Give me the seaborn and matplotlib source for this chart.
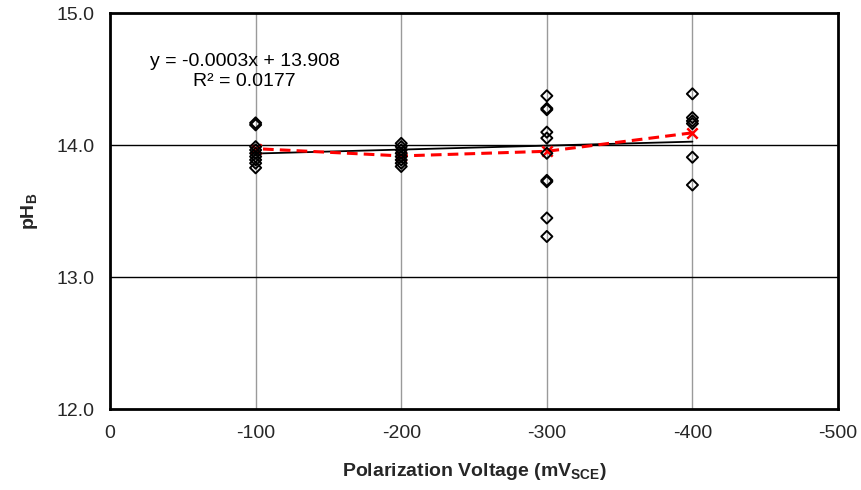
import numpy as np
import pandas as pd
import matplotlib
matplotlib.use("Agg")
import matplotlib.pyplot as plt
import seaborn as sns

# ---- data ----
v100 = [14.17, 14.155, 13.99, 13.965, 13.94, 13.915, 13.89, 13.865, 13.83]
v200 = [14.015, 13.99, 13.965, 13.94, 13.915, 13.89, 13.865, 13.84]
v300 = [14.375, 14.28, 14.27, 14.10, 14.055, 13.94, 13.735, 13.725, 13.45, 13.31]
v400 = [14.39, 14.21, 14.185, 14.165, 13.91, 13.70]
voltages = [-100, -200, -300, -400]
mean_ph = [13.975, 13.92, 13.955, 14.095]
fit_slope = -0.0003
fit_intercept = 13.908
fit_text = "y = -0.0003x + 13.908\nR² = 0.0177"
xticks = [0, -100, -200, -300, -400, -500]
yticks = [12.0, 13.0, 14.0, 15.0]

rows = []
for v, vals in zip(voltages, [v100, v200, v300, v400]):
    for p in vals:
        rows.append({"V": v, "pH": p})
df = pd.DataFrame(rows)
df_mean = pd.DataFrame({"V": voltages, "pH": mean_ph})
fit_x = np.array([voltages[0], voltages[-1]])
df_fit = pd.DataFrame({"V": fit_x, "pH": fit_slope * fit_x + fit_intercept})

sns.set_theme(style="white")
plt.rcParams["font.family"] = ["Liberation Sans", "DejaVu Sans"]
plt.rcParams["mathtext.fontset"] = "custom"
plt.rcParams["mathtext.rm"] = "Liberation Sans"
plt.rcParams["mathtext.bf"] = "Liberation Sans:bold"

FS = 14

fig = plt.figure(figsize=(8.61, 4.90), dpi=100)
ax = fig.add_axes([0.1278, 0.1643, 0.9733 - 0.1278, 0.9729 - 0.1643])

for xv in [-100, -200, -300, -400]:
    ax.axvline(xv, color="#9a9a9a", lw=1.0, zorder=0)
for yv in [13.0, 14.0]:
    ax.axhline(yv, color="black", lw=1.0, zorder=0)

sns.lineplot(data=df_fit, x="V", y="pH", color="black", lw=1.3, ax=ax, zorder=2)
sns.lineplot(data=df_mean, x="V", y="pH", color="#ff0000", lw=2.2, ax=ax,
             zorder=3, dashes=False, linestyle=(0, (3.5, 2.0)))
ax.scatter(df_mean["V"], df_mean["pH"], marker="x", color="#ff0000", s=55, lw=1.8, zorder=4)
sns.scatterplot(data=df, x="V", y="pH", marker="D", s=32, facecolor="none",
                edgecolor="black", linewidth=1.4, ax=ax, zorder=5)

ax.text(-92.5, 14.56, fit_text, ha="center", va="center", fontsize=FS,
        linespacing=1.25, color="black")

ax.set_xlim(0, -500)
ax.set_ylim(12.0, 15.0)
ax.set_xticks(xticks)
ax.set_xticklabels([str(t) for t in xticks], fontsize=FS)
ax.set_yticks(yticks)
ax.set_yticklabels([f"{t:.1f}" for t in yticks], fontsize=FS)
ax.tick_params(length=0)
ax.tick_params(axis="y", pad=11)
ax.tick_params(axis="x", pad=11)

for s in ax.spines.values():
    s.set_visible(True)
    s.set_color("black")
    s.set_linewidth(2.0)

ax.set_xlabel(r"Polarization Voltage (mV$_{\mathbf{SCE}}$)", fontsize=FS,
              fontweight="bold", labelpad=14)
ax.set_ylabel(r"pH$_{\mathbf{B}}$", fontsize=FS, fontweight="bold", labelpad=12)

fig.savefig("out.png", dpi=100)
